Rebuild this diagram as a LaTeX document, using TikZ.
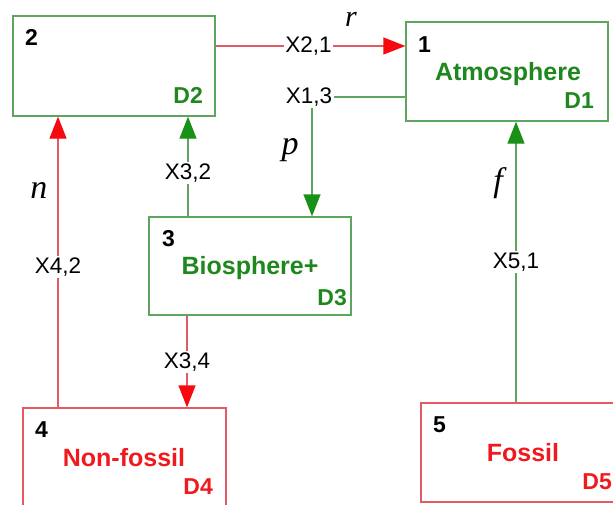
\documentclass[tikz,border=0pt]{standalone}
\usepackage{fontspec}
\setmainfont{Liberation Sans}
\newfontfamily\timesf{Liberation Serif}
\usetikzlibrary{arrows.meta}
\definecolor{bgreen}{RGB}{95,165,95}
\definecolor{tgreen}{RGB}{30,135,30}
\definecolor{bred}{RGB}{228,90,100}
\definecolor{tred}{RGB}{240,25,30}
\definecolor{ared}{RGB}{245,10,15}
\definecolor{agreen}{RGB}{25,145,25}
\begin{document}
\begin{tikzpicture}[x=1pt,y=-1pt,
  gbox/.style={draw=bgreen,line width=1.3pt,inner sep=0pt,minimum width=202pt},
  rbox/.style={draw=bred,line width=1.3pt,inner sep=0pt,minimum width=202pt},
  numtxt/.style={inner sep=0pt,font=\fontsize{23}{23}\selectfont\bfseries},
  gname/.style={inner sep=0pt,text=tgreen,font=\fontsize{25}{25}\selectfont\bfseries},
  rname/.style={inner sep=0pt,text=tred,font=\fontsize{25}{25}\selectfont\bfseries},
  gdn/.style={inner sep=0pt,text=tgreen,font=\fontsize{23}{23}\selectfont\bfseries},
  rdn/.style={inner sep=0pt,text=tred,font=\fontsize{23}{23}\selectfont\bfseries},
  elbl/.style={fill=white,inner sep=1.5pt,font=\fontsize{22.5}{22.5}\selectfont},
  itl/.style={inner sep=0pt,font=\fontsize{34}{34}\timesf\itshape},
  rline/.style={draw=bred,line width=1.3pt,-{Triangle[length=22pt,width=17pt,fill=ared,color=ared]}},
  gline/.style={draw=bgreen,line width=1.3pt,-{Triangle[length=22pt,width=17pt,fill=agreen,color=agreen]}}
]
\useasboundingbox (0,0) rectangle (613,504);
\clip (0,0) rectangle (613,504);

% boxes
\node[gbox,minimum height=100pt] (b2) at (114,66) {};
\node[gbox,minimum height=99pt] (b1) at (507,71.5) {};
\node[gbox,minimum height=98pt] (b3) at (250,266) {};
\node[rbox,minimum height=100pt,minimum width=203pt] (b4) at (124.5,458) {};
\node[rbox,minimum height=99pt] (b5) at (522,452.5) {};

% box texts
\node[numtxt,anchor=base west] (n2) at (25,45) {2};
\node[gdn,anchor=base east] (d2) at (203,103) {D2};
\node[numtxt,anchor=base west] (n1) at (418,52) {1};
\node[gname,anchor=base] (t1) at (508,80) {Atmosphere};
\node[gdn,anchor=base east] (d1) at (594,108) {D1};
\node[numtxt,anchor=base west] (n3) at (162,246) {3};
\node[gname,anchor=base] (t3) at (250,274) {Biosphere+};
\node[gdn,anchor=base east] (d3) at (347,305) {D3};
\node[numtxt,anchor=base west] (n4) at (35,437) {4};
\node[rname,anchor=base] (t4) at (124,466) {Non-fossil};
\node[rdn,anchor=base east] (d4) at (213,494) {D4};
\node[numtxt,anchor=base west] (n5) at (433,432) {5};
\node[rname,anchor=base] (t5) at (523,461) {Fossil};
\node[rdn,anchor=base east] (d5) at (612,489) {D5};

% connectors
\draw[rline] (b2.east |- 0,46) -- node[elbl,pos=0.49] (l21) {X2,1} (b1.west |- 0,46);
\draw[gline] (b1.west |- 0,97) -| node[elbl,pos=0.5,xshift=-3pt] (l13) {X1,3} ([xshift=62pt]b3.north);
\draw[gline] ([xshift=-62pt]b3.north) -- node[elbl,pos=0.436] (l32) {X3,2} ([xshift=-62pt]b3.north |- b2.south);
\draw[rline] ([xshift=-66.5pt]b4.north) -- node[elbl,pos=0.483] (l42) {X4,2} ([xshift=-66.5pt]b4.north |- b2.south);
\draw[rline] ([xshift=-63pt]b3.south) -- node[elbl,pos=0.505] (l34) {X3,4} ([xshift=-63pt]b3.south |- b4.north);
\draw[gline] ([xshift=-6pt]b5.north) -- node[elbl,pos=0.5] (l51) {X5,1} ([xshift=-6pt]b5.north |- b1.south);

% italic flow names
\node[itl,font=\fontsize{30}{30}\timesf\itshape,text height=14pt,text depth=0pt,anchor=base] (r) at (351,26) {r};
\node[itl] (p) at (290,150) {p};
\node[itl] (n) at (39,190) {n};
\node[itl] (f) at (498,183) {f};
\end{tikzpicture}
\end{document}
